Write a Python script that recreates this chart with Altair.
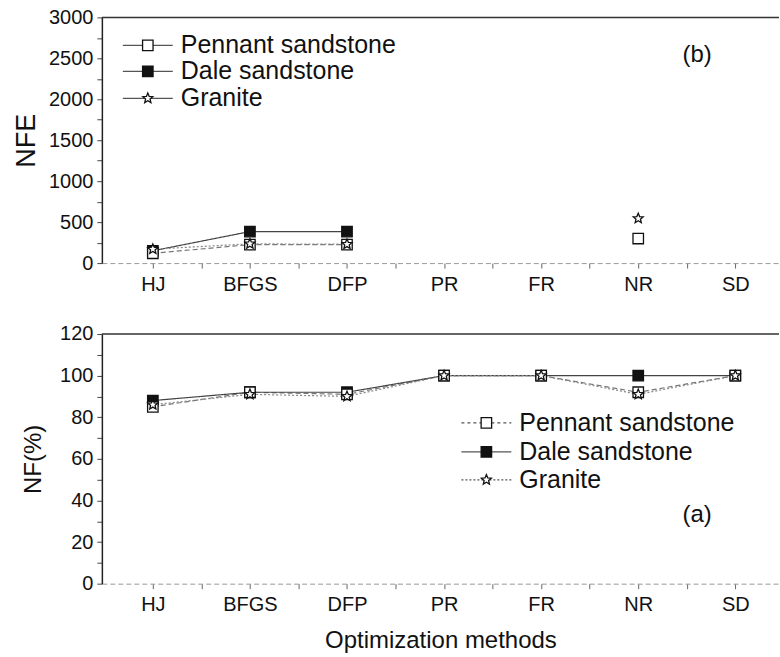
import altair as alt
import pandas as pd

methods = ["HJ", "BFGS", "DFP", "PR", "FR", "NR", "SD"]
series = ["Pennant sandstone", "Dale sandstone", "Granite"]

# NFE (panel b)
nfe_pennant = [120, 225, 225, None, None, 300, None]
nfe_dale = [150, 385, 385, None, None, None, None]
nfe_granite = [170, 235, 230, None, None, 545, None]

# NF(%) (panel a)
nf_pennant = [85, 92, 91, 100, 100, 92, 100]
nf_dale = [88, 92, 92, 100, 100, 100, 100]
nf_granite = [86, 91, 90, 100, 100, 91, 100]

nfe_ticks = [0, 500, 1000, 1500, 2000, 2500, 3000]
nf_ticks = [0, 20, 40, 60, 80, 100, 120]

FONT = "Arial"
W = 678
STAR = ("M0,-1L0.265,-0.364L0.951,-0.309L0.428,0.139L0.588,0.809L0,0.45"
        "L-0.588,0.809L-0.428,0.139L-0.951,-0.309L-0.265,-0.364Z")
SHAPES = ["square", "square", STAR]
FILLS = ["#ffffff", "#111111", "#ffffff"]
draw_rank = {"Dale sandstone": 0, "Pennant sandstone": 1, "Granite": 2}


def long_df(vals):
    rows = []
    for s, v in zip(series, vals):
        seg = 0
        prev_valid = False
        for i, (m, y) in enumerate(zip(methods, v)):
            valid = y is not None
            if valid and not prev_valid:
                seg += 1
            prev_valid = valid
            if valid:
                rows.append({"idx": i, "method": m, "series": s, "val": float(y),
                             "drawrank": draw_rank[s], "seg": "%s-%d" % (s, seg)})
    return pd.DataFrame(rows)


label_arr = "[" + ",".join("'%s'" % m for m in methods) + "]"
x_vals = [i * 0.5 for i in range(13)]


def x_axis(title):
    kw = dict(
        values=x_vals,
        labelExpr="datum.value % 1 === 0 ? " + label_arr + "[datum.value] : ''",
        tickSize=5,
        tickColor="#666666",
        domainColor="#999999",
        domainDash=[5, 3],
        labelFont=FONT, labelFontSize=20, labelColor="#111111", labelPadding=6,
        grid=False,
    )
    if title:
        kw.update(title=title, titleFont=FONT, titleFontSize=24,
                  titleFontWeight="normal", titleColor="#111111", titlePadding=14)
    else:
        kw.update(title=None)
    return alt.Axis(**kw)


def y_axis(title, ticks, tsize, tpad):
    step = ticks[1] - ticks[0]
    vals = []
    v = ticks[0]
    while v <= ticks[-1] + 1e-9:
        vals.append(v)
        v += step / 2
    return alt.Axis(
        values=vals,
        format="d",
        labelExpr="datum.value %% %d === 0 ? datum.label : ''" % step,
        tickSize=5,
        tickColor="#444444",
        domainColor="#222222", domainWidth=1.5,
        labelFont=FONT, labelFontSize=20, labelColor="#111111", labelPadding=4,
        title=title, titleFont=FONT, titleFontSize=tsize,
        titleFontWeight="normal", titleColor="#111111", titlePadding=tpad,
        grid=False,
    )


def panel(vals, ticks, ytitle, tsize, tpad, xtitle, height, tag, tag_y,
          leg_x, leg_y, leg_dash):
    df = long_df(vals)
    xenc = alt.X("idx:Q", scale=alt.Scale(domain=[-0.525, 6.45], nice=False, zero=False),
                 axis=x_axis(xtitle))
    yenc = alt.Y("val:Q", scale=alt.Scale(domain=[ticks[0], ticks[-1]], nice=False),
                 axis=y_axis(ytitle, ticks, tsize, tpad))
    base = alt.Chart(df)
    lines = base.mark_line(strokeWidth=1.2).encode(
        x=xenc, y=yenc,
        detail="seg:N",
        strokeDash=alt.StrokeDash("series:N", scale=alt.Scale(domain=series, range=[[5, 3], [1, 0], [2, 2]]), legend=None),
        color=alt.Color("series:N", scale=alt.Scale(domain=series, range=["#777777", "#444444", "#888888"]), legend=None),
    )
    pts = base.mark_point(size=110, strokeWidth=1.3, opacity=1, color="#111111").encode(
        x=xenc, y=yenc,
        shape=alt.Shape("series:N", scale=alt.Scale(domain=series, range=SHAPES), legend=None),
        fill=alt.Fill("series:N", scale=alt.Scale(domain=series, range=FILLS), legend=None),
        order="drawrank:Q",
    )
    border = alt.Chart(pd.DataFrame({"a": [0]})).mark_rule(color="#333333", strokeWidth=1.5).encode(
        x=alt.value(0), x2=alt.value(W), y=alt.value(0))
    tagtxt = alt.Chart(pd.DataFrame({"t": [tag]})).mark_text(
        font=FONT, fontSize=24, color="#111111", align="center", baseline="middle").encode(
        x=alt.value(596), y=alt.value(tag_y), text="t:N")
    layers = [lines, pts, border, tagtxt]
    for i, s in enumerate(series):
        d = pd.DataFrame({"label": [s]})
        yy = leg_y[i]
        layers.append(alt.Chart(d).mark_rule(color="#555555", strokeWidth=1.2, strokeDash=leg_dash[i]).encode(
            x=alt.value(leg_x - 25), x2=alt.value(leg_x + 25), y=alt.value(yy)))
        layers.append(alt.Chart(d).mark_point(shape=SHAPES[i], fill=FILLS[i], color="#111111",
                                              strokeWidth=1.3, size=110, opacity=1).encode(
            x=alt.value(leg_x), y=alt.value(yy)))
        layers.append(alt.Chart(d).mark_text(font=FONT, fontSize=25, color="#111111",
                                             align="left", baseline="middle").encode(
            x=alt.value(leg_x + 33), y=alt.value(yy), text="label:N"))
    return alt.layer(*layers).properties(width=W, height=height)


top = panel([nfe_pennant, nfe_dale, nfe_granite], nfe_ticks, "NFE", 27, 8, None, 246,
            "(b)", 38, 46, [28, 54, 81], [[1, 0], [1, 0], [1, 0]])
bottom = panel([nf_pennant, nf_dale, nf_granite], nf_ticks, "NF(%)", 24, 14,
               "Optimization methods", 250, "(a)", 181, 385, [89, 118, 146],
               [[3, 3], [1, 0], [2, 2]])

chart = alt.vconcat(top, bottom, spacing=71, bounds="flush").properties(
    padding={"left": 12, "top": 7, "right": 0, "bottom": 0},
    background="white",
).configure_view(strokeWidth=0)

chart.save("out.html", embed_options={"renderer": "svg", "actions": False})
